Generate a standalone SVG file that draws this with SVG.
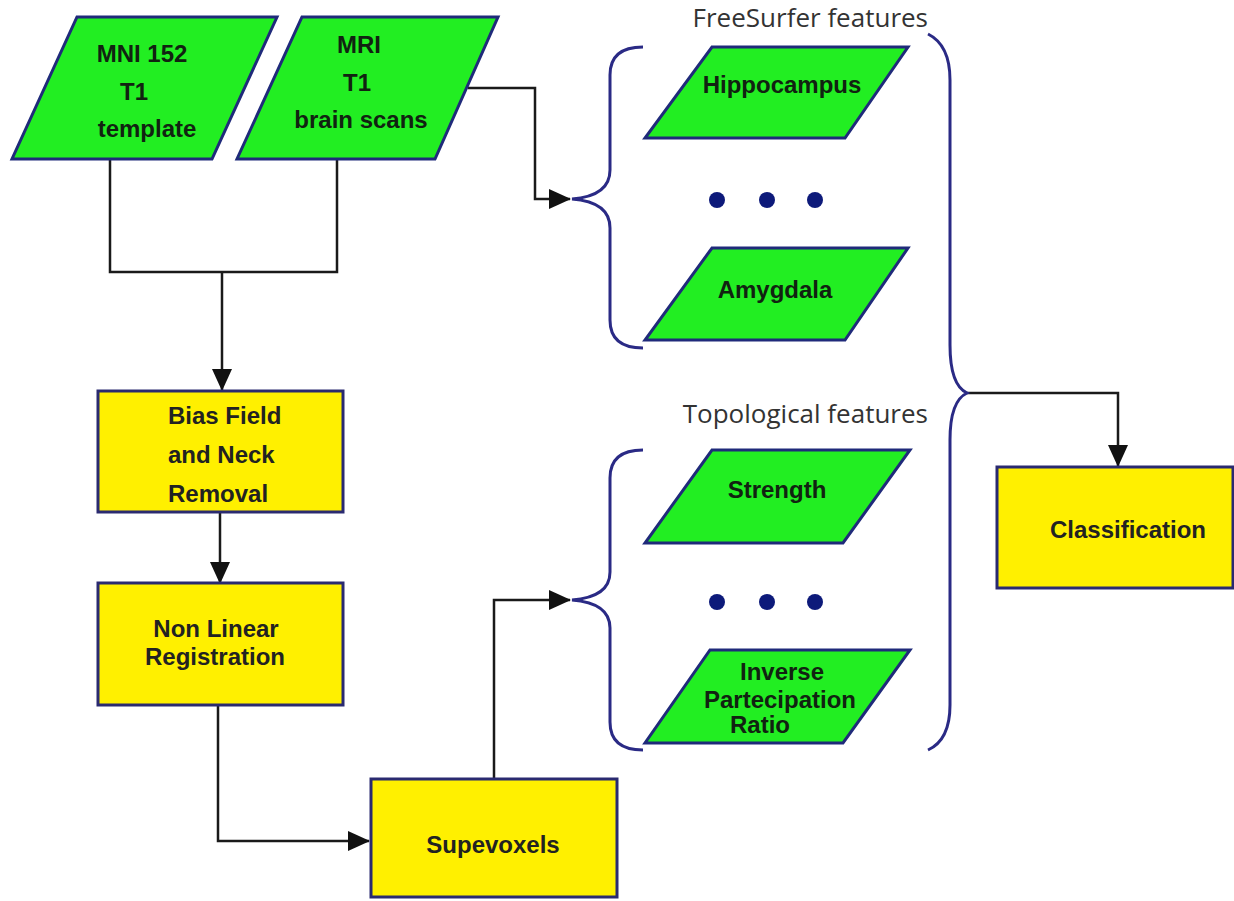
<svg xmlns="http://www.w3.org/2000/svg" width="1234" height="901" viewBox="0 0 1234 901">
<defs>
<marker id="arr" markerUnits="userSpaceOnUse" markerWidth="22" markerHeight="20" refX="21" refY="10" orient="auto">
<path d="M0,0 L22,10 L0,20 Z" fill="#111"/>
</marker>
<style>
.para{fill:#22ee22;stroke:#1f2a7a;stroke-width:3;stroke-linejoin:miter}
.box{fill:#fff000;stroke:#2a2a70;stroke-width:3}
.t{font-family:"Liberation Sans",Arial,sans-serif;font-weight:bold;font-size:24px;fill:#112211;text-anchor:middle}
.ty{font-family:"Liberation Sans",Arial,sans-serif;font-weight:bold;font-size:24px;fill:#222;text-anchor:middle}
.lab{font-family:"Open Sans",sans-serif;font-size:26px;fill:#333;text-anchor:end}
.con{fill:none;stroke:#1a1a1a;stroke-width:2.5}
.brace{fill:none;stroke:#2a2a85;stroke-width:3}
.dot{fill:#0d1a7a}
</style>
</defs>
<rect width="1234" height="901" fill="#fff"/>

<g id="connectors">
<path class="con" d="M110 159 L110 272 L337 272 L337 159"/>
<path class="con" d="M222 272 L222 390" marker-end="url(#arr)"/>
<path class="con" d="M220 512 L220 583" marker-end="url(#arr)"/>
<path class="con" d="M218 705 L218 841 L369 841" marker-end="url(#arr)"/>
<path class="con" d="M494 779 L494 600 L570 600" marker-end="url(#arr)"/>
<path class="con" d="M468 88 L535 88 L535 199 L570 199" marker-end="url(#arr)"/>
<path class="con" d="M967 393 L1118 393 L1118 466" marker-end="url(#arr)"/>
</g>

<g id="mni">
<polygon class="para" points="77,17 277,17 212,159 12,159"/>
<text class="t" x="142" y="62">MNI 152</text>
<text class="t" x="134" y="100">T1</text>
<text class="t" x="147" y="137">template</text>
</g>

<g id="mri">
<polygon class="para" points="302,17 498,17 435,159 237,159"/>
<text class="t" x="359" y="53">MRI</text>
<text class="t" x="357" y="91">T1</text>
<text class="t" x="361" y="128">brain scans</text>
</g>

<g id="bias">
<rect class="box" x="98" y="391" width="245" height="121"/>
<text class="ty" x="168" y="424" style="text-anchor:start">Bias Field</text>
<text class="ty" x="168" y="463" style="text-anchor:start">and Neck</text>
<text class="ty" x="168" y="502" style="text-anchor:start">Removal</text>
</g>

<g id="nonlinear">
<rect class="box" x="98" y="583" width="245" height="122"/>
<text class="ty" x="216" y="637">Non Linear</text>
<text class="ty" x="215" y="665">Registration</text>
</g>

<g id="supevoxels">
<rect class="box" x="371" y="779" width="246" height="118"/>
<text class="ty" x="493" y="853">Supevoxels</text>
</g>

<g id="classification">
<rect class="box" x="997" y="467" width="236" height="121"/>
<text class="ty" x="1128" y="538">Classification</text>
</g>

<g id="freesurfer">
<text class="lab" x="928" y="27">FreeSurfer features</text>
<path class="brace" d="M643 47 Q610 47 610 75 L610 170 Q610 196 572 199 Q610 202 610 228 L610 320 Q610 348 643 348"/>
<polygon class="para" points="712,47 908,47 845,138 645,138"/>
<text class="t" x="782" y="93">Hippocampus</text>
<circle class="dot" cx="717" cy="200" r="8"/>
<circle class="dot" cx="767" cy="200" r="8"/>
<circle class="dot" cx="815" cy="200" r="8"/>
<polygon class="para" points="712,248 908,248 845,340 645,340"/>
<text class="t" x="775" y="298">Amygdala</text>
</g>

<g id="topological">
<text class="lab" x="928" y="423">Topological features</text>
<path class="brace" d="M643 450 Q610 450 610 478 L610 572 Q610 597 572 600 Q610 603 610 628 L610 722 Q610 750 643 750"/>
<polygon class="para" points="712,450 910,450 843,543 645,543"/>
<text class="t" x="777" y="498">Strength</text>
<circle class="dot" cx="717" cy="602" r="8"/>
<circle class="dot" cx="767" cy="602" r="8"/>
<circle class="dot" cx="815" cy="602" r="8"/>
<polygon class="para" points="710,650 910,650 843,743 645,743"/>
<text class="t" x="782" y="680">Inverse</text>
<text class="t" x="780" y="708">Partecipation</text>
<text class="t" x="760" y="733">Ratio</text>
</g>

<g id="bigbrace">
<path class="brace" d="M928 34 Q950 45 950 80 L950 345 Q950 385 967 393 Q950 401 950 440 L950 705 Q950 740 928 750"/>
</g>
</svg>
